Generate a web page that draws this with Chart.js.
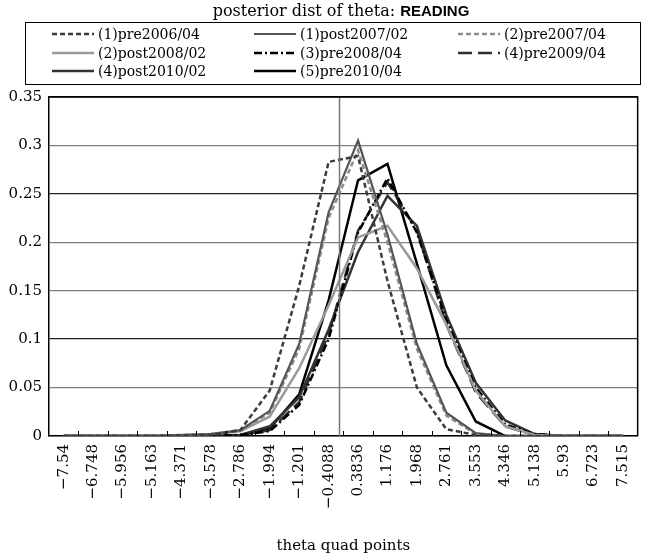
<!DOCTYPE html>
<html>
<head>
<meta charset="utf-8">
<script src="https://cdn.jsdelivr.net/npm/chart.js@4.4.1/dist/chart.umd.min.js"></script>
<style>
  html, body { margin: 0; padding: 0; background: #fff; }
  canvas { display: block; }
</style>
</head>
<body>
<canvas id="chart" width="649" height="557"></canvas>
<script>
// theta quad points (categories)
const quadPoints = ["−7.54", "−6.748", "−5.956", "−5.163", "−4.371", "−3.578", "−2.786", "−1.994", "−1.201", "−0.4088",
  "0.3836", "1.176", "1.968", "2.761", "3.553", "4.346", "5.138", "5.93", "6.723", "7.515"];

const yTickLabels = ["0", "0.05", "0.1", "0.15", "0.2", "0.25", "0.3", "0.35"];

// posterior densities
const pre2006_04  = [0, 0, 0, 0, 0.0005, 0.001, 0.006, 0.047, 0.155, 0.283, 0.289, 0.16, 0.05, 0.007, 0.001, 0, 0, 0, 0, 0];
const post2007_02 = [0, 0, 0, 0, 0.001, 0.002, 0.006, 0.026, 0.095, 0.231, 0.305, 0.208, 0.095, 0.024, 0.003, 0, 0, 0, 0, 0];
const pre2007_04  = [0, 0, 0, 0, 0.001, 0.002, 0.006, 0.024, 0.09, 0.225, 0.295, 0.2, 0.09, 0.021, 0.002, 0, 0, 0, 0, 0];
const post2008_02 = [0, 0, 0, 0, 0.001, 0.002, 0.005, 0.02, 0.07, 0.135, 0.205, 0.217, 0.173, 0.115, 0.047, 0.01, 0.001, 0, 0, 0];
const pre2008_04  = [0, 0, 0, 0, 0, 0, 0.001, 0.005, 0.032, 0.1, 0.21, 0.266, 0.21, 0.12, 0.05, 0.012, 0.002, 0, 0, 0];
const pre2009_04  = [0, 0, 0, 0, 0, 0, 0.001, 0.006, 0.035, 0.105, 0.212, 0.262, 0.212, 0.115, 0.045, 0.01, 0.001, 0, 0, 0];
const post2010_02 = [0, 0, 0, 0, 0, 0, 0.001, 0.01, 0.04, 0.11, 0.19, 0.248, 0.217, 0.125, 0.055, 0.016, 0.002, 0, 0, 0];
const pre2010_04  = [0, 0, 0, 0, 0, 0, 0.001, 0.008, 0.043, 0.14, 0.264, 0.281, 0.178, 0.073, 0.015, 0, 0, 0, 0, 0];

const serif = "'DejaVu Serif', serif";

function line(label, data, color, dash, width) {
  return {
    label: label,
    data: data,
    borderColor: color,
    backgroundColor: color,
    borderDash: dash,
    borderWidth: width,
    pointRadius: 0,
    tension: 0,
    fill: false,
  };
}

// title, boxed legend, axis crossing line, inner ticks, frame
const decorations = {
  id: "decorations",
  afterDraw(chart) {
    const ctx = chart.ctx;
    const area = chart.chartArea;
    const x = chart.scales.x;
    ctx.save();

    // title: serif part + bold sans part
    const part1 = "posterior dist of theta: ";
    const part2 = "READING";
    ctx.textBaseline = "middle";
    ctx.font = "16px " + serif;
    const w1 = ctx.measureText(part1).width;
    ctx.font = "bold 15px 'Liberation Sans', Arial, sans-serif";
    const w2 = ctx.measureText(part2).width;
    let tx = 341 - (w1 + w2) / 2;
    ctx.fillStyle = "#000";
    ctx.font = "16px " + serif;
    ctx.fillText(part1, tx, 12);
    ctx.font = "bold 15px 'Liberation Sans', Arial, sans-serif";
    ctx.fillText(part2, tx + w1, 12);

    // legend box
    ctx.strokeStyle = "#000";
    ctx.lineWidth = 1;
    ctx.strokeRect(25.5, 22.5, 615, 62);
    const colX = [52, 254, 458];
    const rowY = [34, 53, 71];
    ctx.font = "14px " + serif;
    chart.data.datasets.forEach((ds, i) => {
      const cx = colX[i % 3];
      const cy = rowY[Math.floor(i / 3)];
      ctx.beginPath();
      ctx.strokeStyle = ds.borderColor;
      ctx.lineWidth = ds.borderWidth;
      ctx.setLineDash(ds.borderDash);
      ctx.moveTo(cx, cy);
      ctx.lineTo(cx + 42, cy);
      ctx.stroke();
      ctx.setLineDash([]);
      ctx.fillStyle = "#000";
      ctx.fillText(ds.label, cx + 46, cy + 1);
    });

    // vertical axis crossing
    const vx = Math.round(x.getPixelForValue(9.35)) + 0.5;
    ctx.beginPath();
    ctx.strokeStyle = "#777";
    ctx.lineWidth = 1.5;
    ctx.moveTo(vx, area.top);
    ctx.lineTo(vx, area.bottom);
    ctx.stroke();

    // inner tick marks between categories
    ctx.strokeStyle = "#000";
    ctx.lineWidth = 1;
    for (let i = 0; i < quadPoints.length - 1; i++) {
      const px = Math.round(x.getPixelForValue(i + 0.5)) + 0.5;
      ctx.beginPath();
      ctx.moveTo(px, area.bottom);
      ctx.lineTo(px, area.bottom - 5);
      ctx.stroke();
    }

    // frame top and right
    ctx.lineWidth = 1.5;
    ctx.beginPath();
    ctx.moveTo(area.left, area.top);
    ctx.lineTo(area.right, area.top);
    ctx.lineTo(area.right, area.bottom);
    ctx.stroke();
    ctx.restore();
  },
};

new Chart(document.getElementById("chart").getContext("2d"), {
  type: "line",
  data: {
    labels: quadPoints,
    datasets: [
      line("(1)pre2006/04", pre2006_04, "#3c3c3c", [5, 3], 2.5),
      line("(1)post2007/02", post2007_02, "#555555", [], 2.2),
      line("(2)pre2007/04", pre2007_04, "#8c8c8c", [5, 3], 2.5),
      line("(2)post2008/02", post2008_02, "#9a9a9a", [], 2.5),
      line("(3)pre2008/04", pre2008_04, "#000000", [8, 3, 2, 3], 2.5),
      line("(4)pre2009/04", pre2009_04, "#2e2e2e", [14, 6], 2.5),
      line("(4)post2010/02", post2010_02, "#333333", [], 2.5),
      line("(5)pre2010/04", pre2010_04, "#000000", [], 2.5),
    ],
  },
  options: {
    responsive: false,
    animation: false,
    devicePixelRatio: 1,
    layout: { padding: { top: 97, right: 2, left: 0, bottom: 2 } },
    plugins: {
      legend: { display: false },
      title: { display: false },
      tooltip: { enabled: false },
    },
    scales: {
      x: {
        offset: true,
        grid: { display: false, drawTicks: false },
        border: { display: true, color: "#000", width: 1.5 },
        ticks: {
          autoSkip: false,
          maxRotation: 90,
          minRotation: 90,
          padding: 8,
          color: "#000",
          font: { family: serif, size: 15 },
        },
        title: {
          display: true,
          text: "theta quad points",
          color: "#000",
          font: { family: serif, size: 15 },
          padding: { top: 0, bottom: 0 },
        },
        afterFit(s) { s.height = 119; },
      },
      y: {
        min: 0,
        max: 0.35,
        grid: {
          drawTicks: false,
          color: (c) => (c.index === 7 ? "#000" : (c.index === 2 || c.index === 5) ? "#222" : "#808080"),
          lineWidth: 1.3,
        },
        border: { display: true, color: "#000", width: 1.5 },
        ticks: {
          stepSize: 0.05,
          padding: 7,
          color: "#000",
          font: { family: serif, size: 15 },
          callback: (v, i) => yTickLabels[i],
        },
        afterFit(s) { s.width = 49; },
      },
    },
  },
  plugins: [decorations],
});
</script>
</body>
</html>
